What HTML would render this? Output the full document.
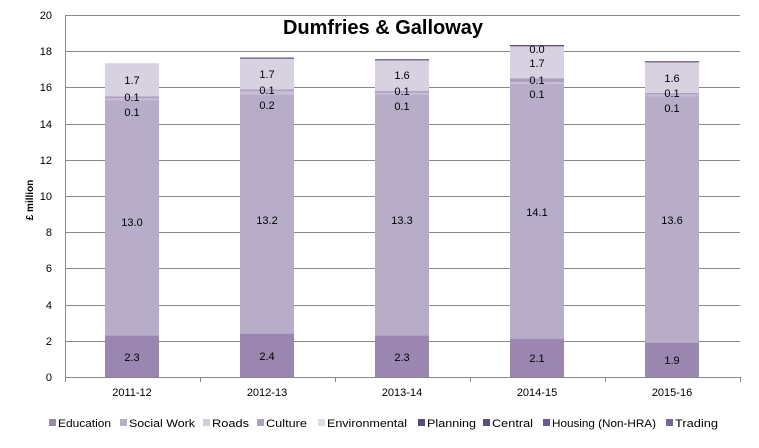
<!DOCTYPE html>
<html><head><style>body{margin:0;background:#fff}text{font-family:"Liberation Sans",sans-serif}</style></head><body>
<svg width="759" height="443" xmlns="http://www.w3.org/2000/svg">
<rect width="759" height="443" fill="#fff"/>
<g stroke="#888" stroke-width="1">
<line x1="65" y1="15.5" x2="740" y2="15.5"/><line x1="65" y1="51.5" x2="740" y2="51.5"/><line x1="65" y1="87.5" x2="740" y2="87.5"/><line x1="65" y1="124.5" x2="740" y2="124.5"/><line x1="65" y1="160.5" x2="740" y2="160.5"/><line x1="65" y1="196.5" x2="740" y2="196.5"/><line x1="65" y1="232.5" x2="740" y2="232.5"/><line x1="65" y1="268.5" x2="740" y2="268.5"/><line x1="65" y1="305.5" x2="740" y2="305.5"/><line x1="65" y1="341.5" x2="740" y2="341.5"/><line x1="65" y1="377.5" x2="740" y2="377.5"/>
<line x1="65.5" y1="15" x2="65.5" y2="382"/>
<line x1="200.5" y1="377" x2="200.5" y2="382"/><line x1="335.5" y1="377" x2="335.5" y2="382"/><line x1="470.5" y1="377" x2="470.5" y2="382"/><line x1="605.5" y1="377" x2="605.5" y2="382"/><line x1="740.5" y1="377" x2="740.5" y2="382"/>
</g>
<g font-size="11" text-anchor="end" fill="#000">
<text x="52" y="19">20</text><text x="52" y="55">18</text><text x="52" y="91">16</text><text x="52" y="128">14</text><text x="52" y="164">12</text><text x="52" y="200">10</text><text x="52" y="236">8</text><text x="52" y="272">6</text><text x="52" y="309">4</text><text x="52" y="345">2</text><text x="52" y="381">0</text>
</g>
<text transform="translate(33,200) rotate(-90)" font-size="10" font-weight="bold" text-anchor="middle">£ million</text>
<text x="383" y="34" font-size="20" font-weight="bold" text-anchor="middle">Dumfries &amp; Galloway</text>

<g>
<rect x="105" y="335.4" width="54" height="41.6" fill="#9a86b0"/>
<rect x="105" y="100.1" width="54" height="235.3" fill="#b8adc9"/>
<rect x="105" y="98.3" width="54" height="1.8" fill="#c6bcd4"/>
<rect x="105" y="96.5" width="54" height="1.8" fill="#ada0c3"/>
<rect x="105" y="63.2" width="54" height="33.3" fill="#d8d1e1"/>

<rect x="240" y="333.6" width="54" height="43.4" fill="#9a86b0"/>
<rect x="240" y="94.6" width="54" height="239" fill="#b8adc9"/>
<rect x="240" y="91" width="54" height="3.6" fill="#c6bcd4"/>
<rect x="240" y="89.2" width="54" height="1.8" fill="#ada0c3"/>
<rect x="240" y="58.4" width="54" height="30.8" fill="#d8d1e1"/>
<rect x="240" y="57.5" width="54" height="1.2" fill="#5f4d80"/>

<rect x="375" y="335.4" width="54" height="41.6" fill="#9a86b0"/>
<rect x="375" y="94.6" width="54" height="240.8" fill="#b8adc9"/>
<rect x="375" y="92.8" width="54" height="1.8" fill="#c6bcd4"/>
<rect x="375" y="91" width="54" height="1.8" fill="#ada0c3"/>
<rect x="375" y="60.1" width="54" height="30.9" fill="#d8d1e1"/>
<rect x="375" y="59.2" width="54" height="1.2" fill="#5f4d80"/>

<rect x="510" y="339" width="54" height="38" fill="#9a86b0"/>
<rect x="510" y="83.8" width="54" height="255.2" fill="#b8adc9"/>
<rect x="510" y="82" width="54" height="1.8" fill="#c6bcd4"/>
<rect x="510" y="78.2" width="54" height="3.8" fill="#ada0c3"/>
<rect x="510" y="46" width="54" height="32.2" fill="#d8d1e1"/>
<rect x="510" y="45" width="54" height="1.3" fill="#5f4d80"/>

<rect x="645" y="342.6" width="54" height="34.4" fill="#9a86b0"/>
<rect x="645" y="96.5" width="54" height="246.1" fill="#b8adc9"/>
<rect x="645" y="94.6" width="54" height="1.9" fill="#c6bcd4"/>
<rect x="645" y="92.8" width="54" height="1.8" fill="#ada0c3"/>
<rect x="645" y="62.1" width="54" height="30.7" fill="#d8d1e1"/>
<rect x="645" y="61.2" width="54" height="1.2" fill="#5f4d80"/>
</g>
<g font-size="11" text-anchor="middle" fill="#000">
<text x="132" y="361">2.3</text><text x="132" y="226">13.0</text><text x="132" y="116">0.1</text><text x="132" y="101">0.1</text><text x="132" y="84">1.7</text>
<text x="267" y="360">2.4</text><text x="267" y="224">13.2</text><text x="267" y="109">0.2</text><text x="267" y="94">0.1</text><text x="267" y="78">1.7</text>
<text x="402" y="361">2.3</text><text x="402" y="224">13.3</text><text x="402" y="110">0.1</text><text x="402" y="95">0.1</text><text x="402" y="79">1.6</text>
<text x="537" y="362">2.1</text><text x="537" y="216">14.1</text><text x="537" y="98">0.1</text><text x="537" y="84">0.1</text><text x="537" y="67">1.7</text><text x="537" y="53">0.0</text>
<text x="672" y="364">1.9</text><text x="672" y="224">13.6</text><text x="672" y="112">0.1</text><text x="672" y="97">0.1</text><text x="672" y="82">1.6</text>
</g>
<g font-size="11" text-anchor="middle">
<text x="132" y="396">2011-12</text><text x="267" y="396">2012-13</text><text x="402" y="396">2013-14</text><text x="537" y="396">2014-15</text><text x="672" y="396">2015-16</text>
</g>
<g font-size="11">
<rect x="49" y="419" width="7" height="7" fill="#9a86b0"/><text x="58" y="427" textLength="53" lengthAdjust="spacingAndGlyphs">Education</text>
<rect x="120" y="419" width="7" height="7" fill="#b8adc9"/><text x="129" y="427" textLength="66" lengthAdjust="spacingAndGlyphs">Social Work</text>
<rect x="203" y="419" width="7" height="7" fill="#d2cbdc"/><text x="212" y="427" textLength="37" lengthAdjust="spacingAndGlyphs">Roads</text>
<rect x="257" y="419" width="7" height="7" fill="#ada0c3"/><text x="266" y="427" textLength="41" lengthAdjust="spacingAndGlyphs">Culture</text>
<rect x="318" y="419" width="7" height="7" fill="#e0dae6"/><text x="327" y="427" textLength="80" lengthAdjust="spacingAndGlyphs">Environmental</text>
<rect x="418" y="419" width="7" height="7" fill="#5a4878"/><text x="427" y="427" textLength="49" lengthAdjust="spacingAndGlyphs">Planning</text>
<rect x="483" y="419" width="7" height="7" fill="#5f4d80"/><text x="492" y="427" textLength="41" lengthAdjust="spacingAndGlyphs">Central</text>
<rect x="543" y="419" width="7" height="7" fill="#6f5a90"/><text x="552" y="427" textLength="104" lengthAdjust="spacingAndGlyphs">Housing (Non-HRA)</text>
<rect x="666" y="419" width="7" height="7" fill="#7a6598"/><text x="675" y="427" textLength="43" lengthAdjust="spacingAndGlyphs">Trading</text>
</g>
</svg>
</body></html>
